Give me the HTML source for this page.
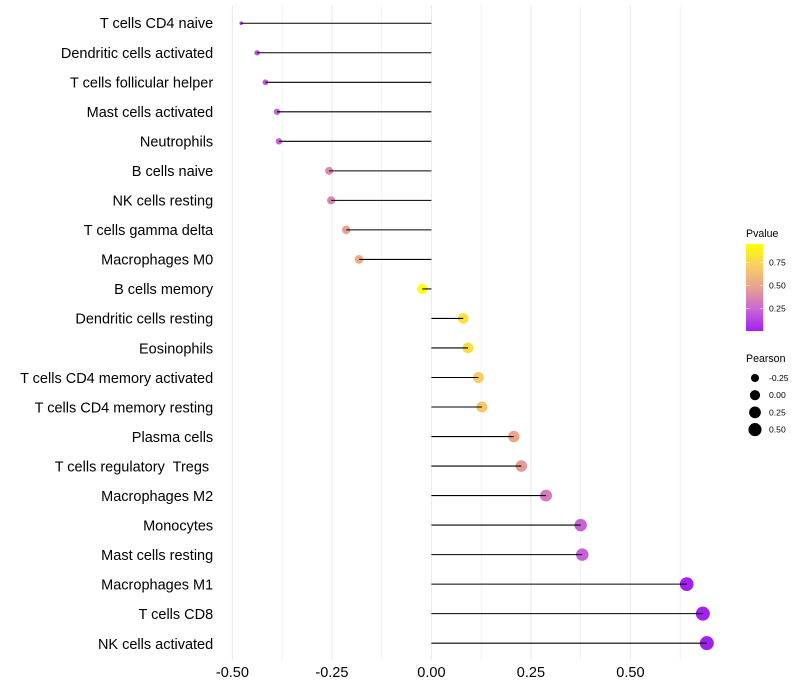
<!DOCTYPE html>
<html>
<head>
<meta charset="utf-8">
<title>Immune cell correlation lollipop chart</title>
<style>
html,body{margin:0;padding:0;background:#fff;width:800px;height:700px;overflow:hidden}
svg{display:block}
text{font-family:"Liberation Sans",sans-serif;white-space:pre}
</style>
</head>
<body>
<svg id="chart" width="800" height="700" viewBox="0 0 800 700" xmlns="http://www.w3.org/2000/svg">
<defs>
<linearGradient id="pvalue-gradient" x1="0" y1="1" x2="0" y2="0"></linearGradient>
</defs>
<rect width="800" height="700" fill="#fff"/>
<g id="grid"></g>
<g id="marks"></g>
<g id="y-axis"></g>
<g id="x-axis"></g>
<g id="legend-pvalue"></g>
<g id="legend-pearson"></g>
</svg>
<script>
const categories = ["T cells CD4 naive","Dendritic cells activated","T cells follicular helper","Mast cells activated","Neutrophils","B cells naive","NK cells resting","T cells gamma delta","Macrophages M0","B cells memory","Dendritic cells resting","Eosinophils","T cells CD4 memory activated","T cells CD4 memory resting","Plasma cells","T cells regulatory  Tregs ","Macrophages M2","Monocytes","Mast cells resting","Macrophages M1","T cells CD8","NK cells activated"];
const pearson = [-0.478,-0.438,-0.417,-0.388,-0.383,-0.257,-0.252,-0.214,-0.182,-0.023,0.08,0.092,0.118,0.127,0.207,0.226,0.288,0.375,0.379,0.6415,0.682,0.692];
const pvalues = [0.05,0.17,0.2,0.22,0.23,0.38,0.36,0.47,0.55,0.945,0.8,0.78,0.7,0.66,0.5,0.45,0.32,0.22,0.22,0.005,0.003,0.001];
const pvalueMax = [0.95];
const xMajorTicks = [-0.5,-0.25,0,0.25,0.5];
const xMinorTicks = [-0.375,-0.125,0.125,0.375,0.625];
const xTickLabels = ["-0.50","-0.25","0.00","0.25","0.50"];
const colorLegendValues = [0.25,0.5,0.75];
const colorLegendLabels = ["0.25","0.50","0.75"];
const sizeLegendValues = [-0.25,0,0.25,0.5];
const sizeLegendLabels = ["-0.25","0.00","0.25","0.50"];
const colorRamp = ["#A020F0","#CA66D4","#E8A091","#F7CF62","#FFFF00"];

const NS = "http://www.w3.org/2000/svg";
function make(tag, attrs, parent, txt) {
  const el = document.createElementNS(NS, tag);
  for (const k in attrs) el.setAttribute(k, attrs[k]);
  if (txt !== undefined) el.textContent = txt;
  parent.appendChild(el);
  return el;
}
const xScale = v => 431.4 + v * 398;
const yScale = i => 23.25 + i * 29.52;
const labelBaseline = i => 28.2 + i * 29.55;
const panelTop = 5, panelBottom = 660;
const minV = Math.min(...pearson), maxV = Math.max(...pearson);
const sizeScale = v => 1.7 + 5.3 * Math.sqrt(Math.max(0, (v - minV) / (maxV - minV)));
function hex(c){return [1,3,5].map(i=>parseInt(c.substr(i,2),16));}
function colorScale(p){
  const t = Math.min(1, Math.max(0, p / pvalueMax[0])) * (colorRamp.length - 1);
  const i = Math.min(colorRamp.length - 2, Math.floor(t));
  const a = hex(colorRamp[i]), b = hex(colorRamp[i + 1]);
  const m = a.map((c, k) => Math.round(c + (b[k] - c) * (t - i)));
  return "rgb(" + m.join(",") + ")";
}

const grid = document.getElementById('grid');
xMinorTicks.forEach(v => {
  const el = make('line', {x1:xScale(v),x2:xScale(v),y1:panelTop,y2:panelBottom,stroke:'#EBEBEB','stroke-width':0.55}, grid);
  
  
});
xMajorTicks.forEach(v => {
  const el = make('line', {x1:xScale(v),x2:xScale(v),y1:panelTop,y2:panelBottom,stroke:'#EBEBEB','stroke-width':1.05}, grid);
  
  
});

const marks = document.getElementById('marks');
categories.forEach((name, i) => {
  const dot = make('circle', {cx:xScale(pearson[i]),cy:yScale(i),r:sizeScale(pearson[i]),fill:colorScale(pvalues[i])}, marks);
  
  
  const stem = make('line', {x1:xScale(0),x2:xScale(pearson[i]),y1:yScale(i),y2:yScale(i),stroke:'#000','stroke-width':1.07}, marks);
  
  
});

const yAxis = document.getElementById('y-axis');
categories.forEach((name, i) => {
  const t = make('text', {x:213.2,y:labelBaseline(i),'text-anchor':'end','font-size':14.5,fill:'#000'}, yAxis, name);
  
  
});

const xAxis = document.getElementById('x-axis');
xMajorTicks.forEach((v, i) => {
  const t = make('text', {x:xScale(v),y:677,'text-anchor':'middle','font-size':14.5,fill:'#000'}, xAxis, xTickLabels[i]);
  
  
});

const grad = document.getElementById('pvalue-gradient');
colorRamp.forEach((c, i) => {
  make('stop', {offset:(i / (colorRamp.length - 1)),'stop-color':c}, grad);
});
const lp = document.getElementById('legend-pvalue');
const barTop = 244, barBottom = 331, barLeft = 746, barW = 17.3;
const barY = p => barBottom + 0.5 - p * 92;
const pt = make('text', {x:746,y:237,'font-size':10.6,fill:'#000'}, lp, 'Pvalue');


const bar = make('rect', {x:barLeft,y:barTop,width:barW,height:barBottom-barTop,fill:'url(#pvalue-gradient)'}, lp);


colorLegendValues.forEach((v, i) => {
  const ly = barY(v);
  const a = make('line', {x1:barLeft,x2:barLeft+3.5,y1:ly,y2:ly,stroke:'#fff','stroke-width':0.5}, lp);
  
  
  const b = make('line', {x1:barLeft+barW-3.5,x2:barLeft+barW,y1:ly,y2:ly,stroke:'#fff','stroke-width':0.5}, lp);
  
  
  const t = make('text', {x:769,y:ly+3,'font-size':8.6,fill:'#000'}, lp, colorLegendLabels[i]);
  
  
});

const ls = document.getElementById('legend-pearson');
const st = make('text', {x:746,y:362,'font-size':10.6,fill:'#000'}, ls, 'Pearson');


sizeLegendValues.forEach((v, i) => {
  const ly = 378 + i * 17.2;
  const c = make('circle', {cx:755,cy:ly,r:sizeScale(v),fill:'#000'}, ls);
  
  
  const t = make('text', {x:769,y:ly+3,'font-size':8.6,fill:'#000'}, ls, sizeLegendLabels[i]);
  
  
});
</script>
</body>
</html>
